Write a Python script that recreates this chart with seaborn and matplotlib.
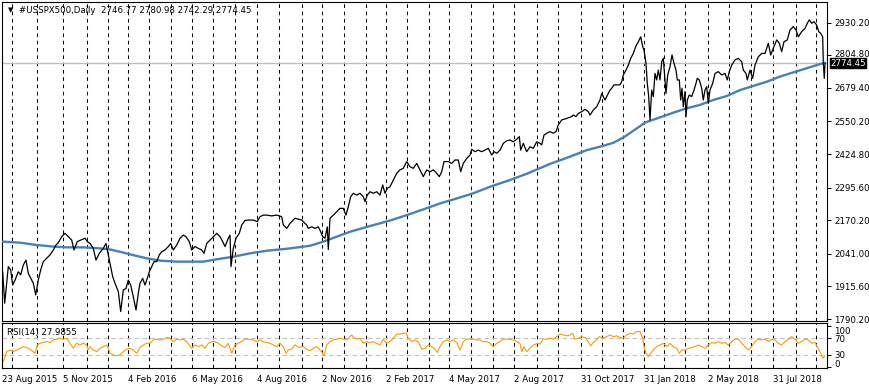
import numpy as np
import pandas as pd
import matplotlib
matplotlib.use("Agg")
import matplotlib.pyplot as plt
import matplotlib.transforms as mtransforms
import seaborn as sns

# ---------------- data ----------------
symbol_header = "#USSPX500,Daily  2746.77 2780.98 2742.29 2774.45"
rsi_header = "RSI(14) 27.9855"
last_close = 2774.45

price_bar = [0.7, 2.7, 4.7, 6.3, 8.7, 10.7, 13, 16.3, 18.7, 21.3, 24, 26.3, 29.7, 31.3, 33.7, 36.3,
             38.7, 41.3, 44.7, 48, 51.3, 54, 56.3, 59.7, 63, 66.3, 69.7, 72, 75.3, 78.7, 83, 85.3,
             88, 91.3, 94, 97.3, 101.3, 104, 106.3, 108, 110.7, 113, 116.3, 118.7, 121.3, 124,
             126.3, 128.7, 131.3, 134, 136.3, 138, 140.7, 143, 145.3, 147.3, 149.7, 152, 154.7,
             157.3, 159.7, 163, 166.3, 168.7, 171.3, 174.7, 178, 181.3, 184, 187.3, 189.7, 193,
             196.3, 199.7, 202, 204.7, 208, 211.3, 214.7, 218, 220.7, 223, 226.3, 228, 229, 231.3,
             234, 237.3, 239.7, 243, 246.3, 251.3, 255.3, 258, 261.3, 264.7, 269.7, 274.7, 279.7,
             281.3, 284.7, 288, 293, 299.7, 303, 304.7, 306.3, 309.7, 313, 316.3, 318.7, 320.7,
             323, 325.3, 326.3, 328, 331.3, 334.7, 338, 341.3, 344, 346.3, 348.7, 351.3, 354.7,
             358, 361.3, 363, 365.3, 368, 371.3, 374.7, 378, 380.7, 383, 385.3, 388, 391.3,
             394.7, 398, 401.3, 404.7, 408, 411.3, 414.7, 418, 421.3, 424.7, 428, 431.3, 434.7,
             437.3, 439.7, 442, 446.3, 449.7, 453, 456.3, 458.7, 461.3, 464.7, 468, 469.7, 473,
             476.3, 479.7, 483, 486.3, 489.7, 492, 494.7, 498, 501.3, 504.7, 508, 511.3, 514.7,
             517.3, 518.7, 521.3, 524.7, 528, 531.3, 534.7, 538, 539.7, 542, 544.7, 548, 551.3,
             554, 556.3, 559.7, 564.7, 569.7, 571.3, 574, 576.3, 579.7, 583, 586.3, 588, 591.3,
             594.7, 598, 599.7, 601.3, 603, 604.7, 608, 609.7, 612, 614.7, 618, 619.7, 621.3,
             624, 626.3, 628.7, 631.3, 633.7, 636.3, 638.7, 640.7, 642, 644, 645.3, 646.7, 648,
             649.7, 651.3, 653, 654.7, 656.3, 658, 659.7, 661.3, 663, 664, 665.7, 668, 670, 672,
             674, 675.3, 677.3, 678.7, 680, 681.3, 683, 684, 685.3, 687.3, 689.7, 692, 694,
             695.3, 697.3, 699.7, 701.3, 703, 704.7, 706.3, 708, 710.7, 713, 716.3, 719.7, 723,
             725.3, 727.3, 729.7, 733, 736.3, 739.7, 741.3, 744, 745.3, 748, 750.7, 753, 756.3,
             759.7, 763, 766.3, 768.7, 771.3, 774.7, 777.3, 779.7, 782, 785.3, 788, 791.3, 794,
             796.3, 799.7, 803, 805.3, 807.3, 809.7, 812, 814.7, 816.7, 818.7, 820.7, 821.3,
             822.3, 823]
price_close = [1972, 1851, 1928, 1992, 1979, 1921, 1940, 1972, 1960, 1998, 2017, 1966, 1940, 1928,
               1883, 1940, 1979, 2011, 2024, 2037, 2056, 2075, 2084, 2107, 2120, 2107, 2094, 2056,
               2088, 2094, 2101, 2088, 2081, 2062, 2017, 2043, 2062, 2081, 2037, 2004, 1953, 1928,
               1896, 1819, 1902, 1908, 1940, 1921, 1876, 1825, 1889, 1928, 1947, 1921, 1947, 1972,
               1992, 2011, 2011, 2037, 2049, 2056, 2069, 2081, 2056, 2075, 2101, 2113, 2107, 2088,
               2056, 2069, 2062, 2056, 2043, 2081, 2094, 2107, 2120, 2107, 2088, 2069, 2101, 2113,
               1992, 2062, 2101, 2120, 2152, 2169, 2171, 2171, 2165, 2184, 2190, 2190, 2187, 2190,
               2184, 2152, 2139, 2158, 2178, 2171, 2158, 2152, 2139, 2145, 2139, 2145, 2126, 2107,
               2101, 2145, 2058, 2178, 2190, 2203, 2216, 2216, 2190, 2222, 2261, 2274, 2267, 2274,
               2261, 2242, 2267, 2280, 2274, 2280, 2267, 2306, 2274, 2293, 2299, 2325, 2351, 2364,
               2370, 2396, 2376, 2370, 2389, 2364, 2338, 2364, 2357, 2364, 2351, 2338, 2357, 2396,
               2396, 2389, 2402, 2402, 2357, 2389, 2408, 2421, 2443, 2434, 2440, 2434, 2440, 2447,
               2421, 2434, 2428, 2440, 2466, 2476, 2479, 2472, 2482, 2492, 2440, 2466, 2434, 2453,
               2447, 2472, 2466, 2460, 2498, 2505, 2511, 2505, 2511, 2537, 2556, 2562, 2569, 2575,
               2569, 2581, 2588, 2597, 2588, 2575, 2594, 2607, 2633, 2658, 2646, 2633, 2646, 2671,
               2678, 2691, 2691, 2691, 2703, 2729, 2748, 2767, 2793, 2812, 2838, 2857, 2876, 2838,
               2825, 2774, 2697, 2646, 2556, 2671, 2646, 2735, 2710, 2748, 2710, 2780, 2793, 2710,
               2658, 2729, 2761, 2806, 2774, 2748, 2710, 2710, 2633, 2678, 2607, 2665, 2569, 2633,
               2652, 2646, 2671, 2697, 2716, 2710, 2678, 2633, 2671, 2684, 2620, 2671, 2697, 2735,
               2742, 2729, 2735, 2710, 2742, 2767, 2787, 2793, 2780, 2748, 2735, 2710, 2748, 2716,
               2767, 2799, 2812, 2812, 2851, 2806, 2832, 2864, 2851, 2819, 2857, 2864, 2902, 2915,
               2902, 2876, 2896, 2908, 2928, 2941, 2928, 2934, 2921, 2896, 2889, 2876, 2774, 2716,
               2774.45]

ma_bar = [0.7, 18, 34.7, 51.3, 64.7, 81.3, 98, 108, 118, 131.3, 144.7, 158, 174.7, 191.3, 201.3,
          214.7, 231.3, 248, 264.7, 278, 288, 308, 321.3, 334.7, 348, 368, 388, 404.7, 421.3,
          438, 454.7, 471.3, 488, 508, 524.7, 548, 566, 584.7, 598, 611.3, 622, 638, 643, 658,
          671.3, 684.7, 698, 711.3, 724.7, 738, 751.3, 764.7, 778, 791.3, 804.7, 818, 823]
ma_value = [2088, 2084, 2075, 2069, 2066, 2066, 2062, 2058, 2049, 2036, 2024, 2015, 2011, 2011,
            2011, 2020, 2030, 2043, 2053, 2058, 2062, 2072, 2088, 2107, 2126, 2148, 2169, 2190,
            2212, 2235, 2254, 2274, 2299, 2325, 2349, 2387, 2412, 2440, 2453, 2468, 2490, 2532,
            2546, 2566, 2584, 2601, 2614, 2633, 2648, 2671, 2687, 2703, 2723, 2739, 2755, 2771,
            2776]

rsi_bar = [1.3, 3, 4.7, 8, 11.3, 14.7, 18, 21.3, 24.7, 28, 31.3, 33, 35.3, 38, 41.3, 44.7, 48, 51.3,
           54.7, 58, 61.3, 64.7, 68, 71.3, 74.7, 78, 81.3, 84.7, 86.3, 88, 91.3, 94.7, 98, 101.3,
           104.7, 106.3, 108, 111.3, 114.7, 118, 121.3, 124.7, 128, 131.3, 134.7, 138, 141.3,
           144.7, 148, 151.3, 154.7, 158, 161.3, 164.7, 168, 171.3, 174.7, 178, 181.3, 184.7,
           189.7, 193, 196.3, 199.7, 203, 206.3, 209.7, 213, 216.3, 219.7, 223, 226.3, 229.7,
           233, 236.3, 239.7, 243, 246.3, 251.3, 254.7, 258, 261.3, 264.7, 268, 271.3, 274.7,
           278, 281.3, 284, 286.3, 289.7, 293, 296.3, 301.3, 304.7, 308, 311.3, 314.7, 318,
           320.7, 322, 324.7, 328, 331.3, 334.7, 338, 341.3, 344.7, 348, 349.7, 351.3, 354.7,
           358, 361.3, 364.7, 368, 371.3, 374.7, 378, 381.3, 384.7, 388, 391.3, 394.7, 398,
           401.3, 404, 406.3, 409.7, 413, 416.3, 419.7, 423, 426.3, 429.7, 433, 435.3, 438,
           441.3, 444.7, 448, 451.3, 454.7, 458, 461.3, 464.7, 468, 471.3, 474.7, 478, 481.3,
           484.7, 488, 491.3, 494.7, 498, 501.3, 504.7, 508, 511.3, 514.7, 518, 519.7, 522,
           524.7, 528, 531.3, 536.3, 538, 541.3, 544.7, 548, 551.3, 554.7, 558, 561.3, 564.7,
           568, 570.7, 573, 576.3, 579.7, 583, 586.3, 588.7, 591.3, 594.7, 597.3, 601.3, 604.7,
           608, 611.3, 614.7, 618, 621.3, 624.7, 628, 631.3, 634.7, 638, 640.7, 642, 644, 646.3,
           648.7, 651.3, 654.7, 658, 661.3, 664.7, 668, 671.3, 674.7, 677.3, 679.7, 683, 686.3,
           689.7, 693, 696.3, 699.7, 703, 706.3, 709.7, 713, 716.3, 719.7, 723, 726.3, 729.7,
           733, 736.3, 739.7, 743, 746.3, 749.7, 753, 756.3, 759.7, 763, 766.3, 769.7, 773,
           776.3, 779.7, 783, 786.3, 789.7, 793, 796.3, 799.7, 803, 806.3, 809.7, 813, 815.3,
           818, 820.7, 822, 823]
rsi_value = [14, 26, 38, 42, 38, 42, 46, 50, 48, 44, 38, 34, 54, 58, 60, 62, 60, 66, 68, 70, 68, 70,
             58, 46, 58, 54, 58, 54, 42, 50, 42, 38, 46, 50, 54, 46, 34, 30, 28, 30, 38, 44, 46,
             42, 34, 48, 54, 58, 58, 66, 68, 66, 68, 72, 70, 62, 68, 66, 68, 62, 46, 54, 50, 54,
             46, 58, 62, 62, 58, 52, 48, 58, 34, 54, 58, 62, 68, 68, 66, 62, 66, 62, 60, 58, 54,
             50, 58, 50, 34, 42, 44, 54, 48, 50, 44, 40, 46, 50, 42, 34, 28, 54, 62, 66, 68, 70,
             68, 66, 74, 78, 72, 68, 70, 58, 62, 60, 62, 58, 54, 68, 58, 62, 70, 80, 80, 82, 83,
             70, 62, 66, 62, 44, 46, 54, 50, 44, 36, 50, 62, 66, 62, 66, 60, 42, 62, 68, 68, 68,
             66, 66, 62, 62, 58, 50, 58, 62, 68, 68, 68, 66, 62, 58, 38, 50, 38, 46, 54, 58, 56,
             68, 68, 70, 68, 74, 80, 78, 76, 78, 82, 68, 70, 74, 72, 62, 52, 60, 66, 74, 70, 74,
             78, 74, 76, 72, 70, 78, 82, 80, 86, 86, 70, 50, 34, 26, 34, 42, 50, 54, 58, 50, 58,
             50, 46, 34, 42, 42, 46, 48, 50, 54, 50, 46, 54, 60, 58, 62, 58, 60, 54, 62, 68, 68,
             58, 50, 42, 50, 62, 68, 66, 68, 62, 68, 66, 58, 54, 62, 68, 74, 68, 58, 62, 68, 66,
             58, 60, 50, 38, 22, 26, 28]

date_labels = ["23 Aug 2015", "5 Nov 2015", "4 Feb 2016", "6 May 2016", "4 Aug 2016",
               "2 Nov 2016", "2 Feb 2017", "4 May 2017", "2 Aug 2017", "31 Oct 2017",
               "31 Jan 2018", "2 May 2018", "31 Jul 2018"]
date_bars = [0.5, 61.3, 126.3, 189.7, 254.7, 320.3, 384.3, 446.7, 512.3, 578.7, 642.3, 705.7, 770.7]
price_ticks = [2930.20, 2804.80, 2679.40, 2550.20, 2424.80, 2295.60, 2170.20, 2041.00, 1915.60, 1790.20]
rsi_ticks = [100, 70, 30, 0]
rsi_levels = [70, 30]

# layout constants (vertical dashed separators, in bar units)
grid_bars = [9.7, 35.3, 61.3, 84.7, 106.3, 126.3, 147.3, 168.7, 189.7, 211.3, 233.3, 254.7,
             277.3, 299.7, 320.3, 342, 363.7, 384.3, 404.7, 427.3, 446.7, 469.3, 491.3, 512.3,
             535.3, 556.3, 578.7, 600.3, 620.7, 642.3, 662.3, 683.3, 705.7, 727.3, 748.7, 770.7,
             793.7, 813.7]

# ---------------- figure ----------------
sns.set_style("white")
plt.rcParams['font.family'] = ['DejaVu Sans']
plt.rcParams['axes.linewidth'] = 0.8

W, H = 870, 390
fig = plt.figure(figsize=(W / 100, H / 100), dpi=100)
fig.patch.set_facecolor("white")

def px_rect(x0, y0, x1, y1):
    return [x0 / W, 1 - y1 / H, (x1 - x0) / W, (y1 - y0) / H]

ax = fig.add_axes(px_rect(2, 2, 827, 321))
axr = fig.add_axes(px_rect(2, 323, 827, 368))

price_df = pd.DataFrame({"bar": price_bar, "close": price_close})
ma_df = pd.DataFrame({"bar": ma_bar, "ma": ma_value})
rsi_df = pd.DataFrame({"bar": rsi_bar, "rsi": rsi_value})

dash = (0, (3.5, 3.5))
for a in (ax, axr):
    for g in grid_bars:
        a.axvline(g, color="black", lw=0.75, ls=dash, zorder=1)

ax.axhline(last_close, color="#c0c0c0", lw=1.0, zorder=2)
sns.lineplot(data=ma_df, x="bar", y="ma", ax=ax, color="#4682B4", lw=1.7,
             estimator=None, sort=False, zorder=3)
sns.lineplot(data=price_df, x="bar", y="close", ax=ax, color="black", lw=0.9,
             estimator=None, sort=False, zorder=4)

for lv in rsi_levels:
    axr.axhline(lv, color="#c0c0c0", lw=0.8, ls=(0, (4, 3)), zorder=2)
sns.lineplot(data=rsi_df, x="bar", y="rsi", ax=axr, color="#FF9900", lw=0.8,
             estimator=None, sort=False, zorder=3)

ax.set_xlim(0, 825)
axr.set_xlim(0, 825)
ax.set_ylim(1782.7, 3009.8)
axr.set_ylim(-1.2, 106.7)

fs = 6.2
for a in (ax, axr):
    for s in a.spines.values():
        s.set_visible(True)
        s.set_color("black")
        s.set_linewidth(0.8)
    a.set_xlabel("")
    a.set_ylabel("")
    a.yaxis.tick_right()
    a.tick_params(axis="y", direction="out", length=3, width=0.7, pad=2,
                  labelsize=fs, colors="black")

ax.set_xticks([])
ax.set_yticks(price_ticks)
ax.set_yticklabels([f"{v:.2f}" for v in price_ticks])
# nudge the label sitting just above the current-price box
for lab, v in zip(ax.get_yticklabels(), price_ticks):
    if abs(v - last_close) < 60:
        lab.set_transform(lab.get_transform() +
                          mtransforms.ScaledTranslation(0, 1.5 / 100, fig.dpi_scale_trans))

axr.set_yticks(rsi_ticks)
axr.set_yticklabels([str(v) for v in rsi_ticks])
for lab, dy in zip(axr.get_yticklabels(), [-4.5, 0, 0, 4]):
    lab.set_transform(lab.get_transform() +
                      mtransforms.ScaledTranslation(0, dy / 100, fig.dpi_scale_trans))

axr.set_xticks(date_bars)
axr.set_xticklabels(date_labels, ha="left")
axr.tick_params(axis="x", direction="out", length=3, width=0.7, pad=2,
                labelsize=fs, colors="black")

# current price marker
trans = mtransforms.blended_transform_factory(ax.transAxes, ax.transData)
ax.text(1.0 + 3 / 825, last_close, f"{last_close:.2f}", transform=trans, ha="left",
        va="center", color="white", fontsize=fs, zorder=10, clip_on=False,
        bbox=dict(boxstyle="square,pad=0.05", fc="black", ec="black"))

# headers
fig.text(8 / W, 1 - 10.5 / H, "\u25BC", fontsize=5, color="black", ha="left", va="center")
fig.text(19 / W, 1 - 10.5 / H, symbol_header, fontsize=fs, color="black", ha="left", va="center")
fig.text(7 / W, 1 - 332.5 / H, rsi_header, fontsize=fs, color="black", ha="left", va="center")

fig.savefig("out.png", dpi=100, facecolor="white")
